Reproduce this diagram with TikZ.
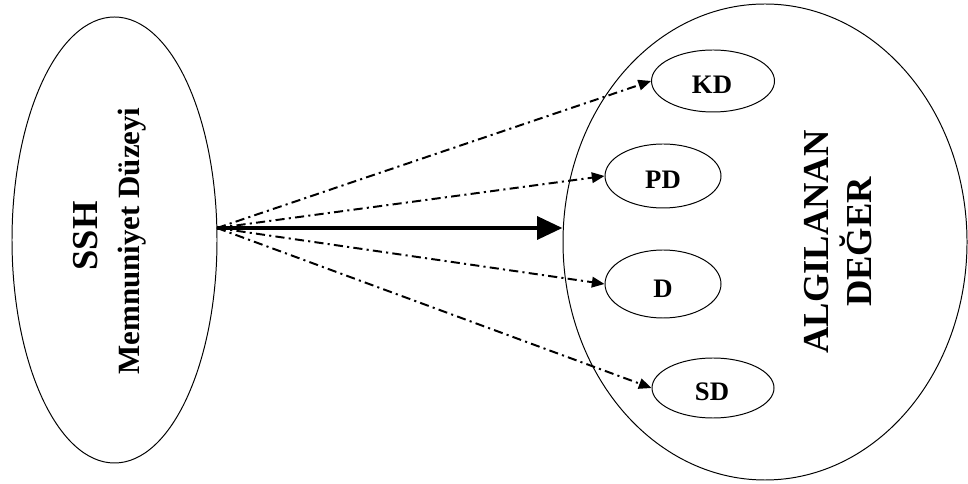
\documentclass[tikz,border=0pt]{standalone}
\usepackage{fontspec}
\setmainfont{Liberation Serif}
\usetikzlibrary{shapes.geometric,arrows.meta}

\begin{document}
\begin{tikzpicture}[
    oval/.style={draw, ellipse, line width=0.7pt, inner sep=0pt},
    boldtxt/.style={font=\bfseries\fontsize{19}{22}\selectfont, inner sep=0pt},
    dotarrow/.style={line width=1.4pt, dash pattern=on 6.5pt off 3pt on 1.5pt off 3pt,
        -{Triangle[length=9pt,width=7.5pt]}},
    bigarrow/.style={line width=3.2pt, -{Triangle[length=18pt,width=16pt]}}
  ]
        \useasboundingbox (0,0) rectangle (24.2,12.1);
        % \draw[help lines, gray!50, very thin] (0,0) grid (24,12);

        % left side
        \node[oval, minimum width=5.125cm, minimum height=11.15cm] (ssh) at (2.8625,6.1) {};
        \node[boldtxt, rotate=90, font=\bfseries\fontsize{26}{30}\selectfont] (sshtxt) at (2.15,6.2) {SSH};
        \node[boldtxt, rotate=90, font=\bfseries\fontsize{22}{26}\selectfont] (memnun) at (3.3,6.075) {Memnuniyet Düzeyi};

        % right side
        \node[oval, minimum width=10.1cm, minimum height=11.9cm] (deger) at (19.125,6.05) {};
        \node[boldtxt, rotate=90, align=center, font=\bfseries\fontsize{26}{31}\selectfont] (degertxt) at (20.95,6.05)
            {ALGILANAN\\DEĞER};

        \node[oval, minimum width=3.075cm, minimum height=1.55cm] (kd) at (17.825,10.075) {};
        \node[boldtxt] (kdtxt) at (17.8,9.98) {KD};
        \node[oval, minimum width=2.9cm, minimum height=1.6cm] (pd) at (16.575,7.7) {};
        \node[boldtxt] (pdtxt) at (16.575,7.6) {PD};
        \node[oval, minimum width=2.9cm, minimum height=1.7cm] (d) at (16.575,5.0) {};
        \node[boldtxt] (dtxt) at (16.575,4.88) {D};
        \node[oval, minimum width=3.05cm, minimum height=1.5cm] (sd) at (17.825,2.4) {};
        \node[boldtxt] (sdtxt) at (17.8,2.3) {SD};

        % arrows
        \coordinate (src) at (5.425,6.4);
        \draw[bigarrow] (src) -- (src -| deger.west);
        \draw[dotarrow] (src) -- (kd.west);
        \draw[dotarrow] (src) -- (pd.west);
        \draw[dotarrow] (src) -- (d.west);
        \draw[dotarrow] (src) -- (sd.west);
      \end{tikzpicture}
\end{document}
